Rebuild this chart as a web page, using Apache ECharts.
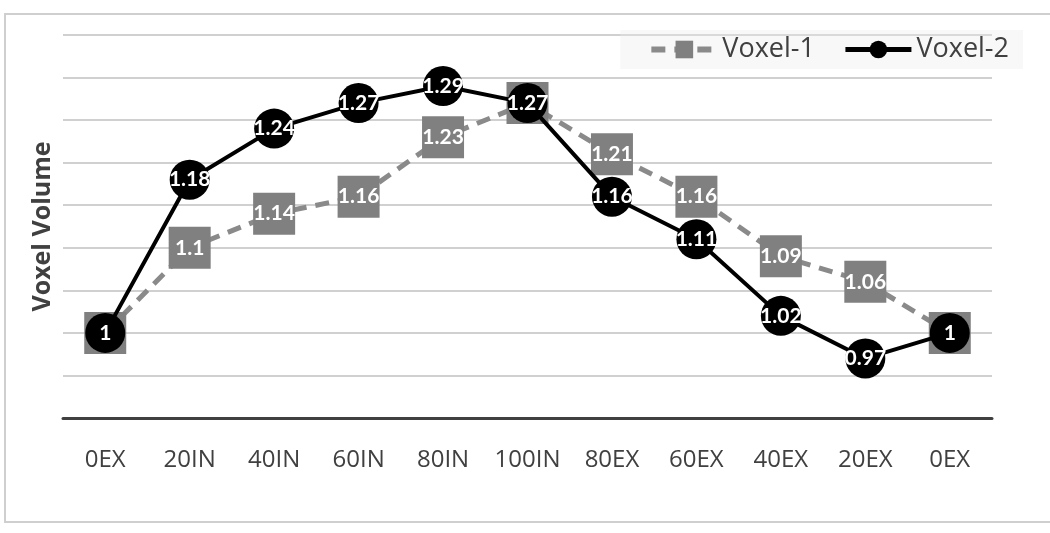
<!DOCTYPE html>
<html>
	<head>
		<meta charset="UTF-8">
		<title>Voxel Volume</title>
		<script src="https://cdn.jsdelivr.net/npm/echarts@6/dist/echarts.min.js"></script>
		<style type="text/css">
			html, body{
				margin: 0;
				padding: 0;
				background: #fff;
			}
			#chart{
				width: 1050px;
				height: 533px;
			}
		</style>
	</head>
	<body>
		<div id="chart"></div>
		<script>
		// data
		var categories = ['0EX', '20IN', '40IN', '60IN', '80IN', '100IN', '80EX', '60EX', '40EX', '20EX', '0EX'];
		var voxel1 = [1, 1.1, 1.14, 1.16, 1.23, 1.27, 1.21, 1.16, 1.09, 1.06, 1];
		var voxel2 = [1, 1.18, 1.24, 1.27, 1.29, 1.27, 1.16, 1.11, 1.02, 0.97, 1];

		var myChart = echarts.init(document.getElementById('chart'));
		var labelStyle = {
			show: true,
			position: 'inside',
			color: '#fff',
			fontWeight: 'bold',
			fontSize: 21,
			fontFamily: 'Lato'
		};
		var option = {
			animation: false,
			graphic: [{
				type: 'rect',
				shape: {x: 5, y: 14, width: 1080, height: 508},
				style: {fill: 'none', stroke: '#cfcfcf', lineWidth: 2},
				z: -10
			}],
			legend: {
				data: [
					{name: 'Voxel-1', lineStyle: {width: 6}},
					{name: 'Voxel-2', lineStyle: {width: 5}}
				],
				right: 27,
				top: 30,
				padding: [6, 14, 6, 28],
				backgroundColor: 'rgba(235,235,235,0.35)',
				itemWidth: 66,
				itemHeight: 22,
				itemGap: 28,
				textStyle: {fontSize: 27, color: '#404040', fontFamily: 'Open Sans'}
			},
			grid: {left: 63, right: 58, top: 35, bottom: 115},
			xAxis: {
				type: 'category',
				data: categories,
				boundaryGap: true,
				axisLine: {lineStyle: {color: '#404040', width: 3}},
				axisTick: {show: false},
				axisLabel: {interval: 0, fontSize: 24, color: '#404040', margin: 30, fontFamily: 'Open Sans'}
			},
			yAxis: {
				type: 'value',
				min: 0.9,
				max: 1.35,
				interval: 0.05,
				name: 'Voxel Volume',
				nameLocation: 'middle',
				nameGap: 8,
				nameTextStyle: {fontSize: 25, fontWeight: 'bold', color: '#404040', fontFamily: 'Open Sans'},
				axisLabel: {show: false},
				axisLine: {show: false},
				axisTick: {show: false},
				splitLine: {lineStyle: {color: '#d0d0d0', width: 2}}
			},
			series: [
				{
					name: 'Voxel-1',
					type: 'line',
					data: voxel1,
					symbol: 'rect',
					symbolSize: 42,
					itemStyle: {color: '#808080'},
					lineStyle: {color: '#8a8a8a', width: 5, type: [14, 9]},
					label: labelStyle,
					z: 2
				},
				{
					name: 'Voxel-2',
					type: 'line',
					data: voxel2,
					symbol: 'circle',
					symbolSize: 40,
					itemStyle: {color: '#000'},
					lineStyle: {color: '#000', width: 4},
					label: labelStyle,
					z: 3
				}
			]
		};
		myChart.setOption(option);
		</script>
	</body>
</html>
